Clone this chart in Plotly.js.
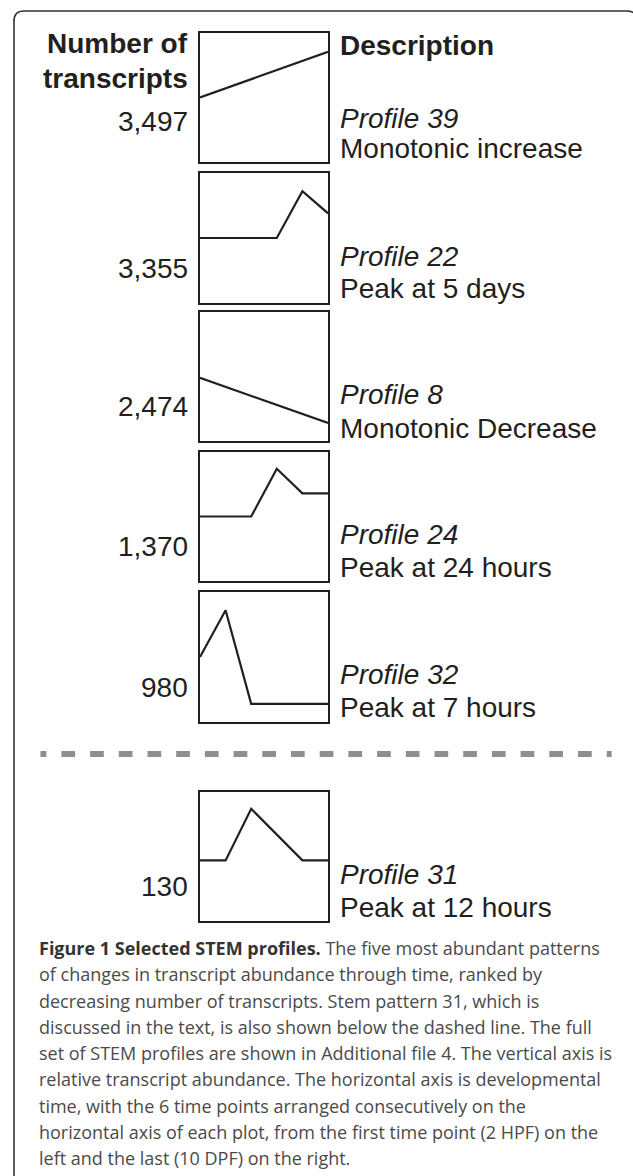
<!DOCTYPE html>
<html><head><meta charset="utf-8">
<script src="https://cdn.plot.ly/plotly-3.0.1.min.js"></script>
<style>html,body{margin:0;padding:0;background:#fff}#chart{width:633px;height:1176px}</style>
</head><body><div id="chart"></div>
<script>
// ---- data ----
const timePoints = [0, 1, 2, 3, 4, 5]; // 2 HPF ... 10 DPF
const profileIds = [39, 22, 8, 24, 32, 31];
const transcriptCounts = ["3,497", "3,355", "2,474", "1,370", "980", "130"];
const descriptions = ["Monotonic increase", "Peak at 5 days", "Monotonic Decrease",
                      "Peak at 24 hours", "Peak at 7 hours", "Peak at 12 hours"];
const profile39 = [0.50, 0.57, 0.64, 0.71, 0.78, 0.855];
const profile22 = [0.50, 0.50, 0.50, 0.50, 0.86, 0.69];
const profile8  = [0.49, 0.42, 0.35, 0.28, 0.21, 0.14];
const profile24 = [0.50, 0.50, 0.50, 0.87, 0.68, 0.68];
const profile32 = [0.50, 0.86, 0.14, 0.14, 0.14, 0.14];
const profile31 = [0.47, 0.47, 0.87, 0.67, 0.47, 0.47];
const profileValues = [profile39, profile22, profile8, profile24, profile32, profile31];
const captionBold = "Figure 1 Selected STEM profiles.";
const captionLines = [
  " The five most abundant patterns",
  "of changes in transcript abundance through time, ranked by",
  "decreasing number of transcripts. Stem pattern 31, which is",
  "discussed in the text, is also shown below the dashed line. The full",
  "set of STEM profiles are shown in Additional file 4. The vertical axis is",
  "relative transcript abundance. The horizontal axis is developmental",
  "time, with the 6 time points arranged consecutively on the",
  "horizontal axis of each plot, from the first time point (2 HPF) on the",
  "left and the last (10 DPF) on the right."
];

// ---- layout (pixels) ----
const W = 633, H = 1176;
const px = x => x / W, py = y => 1 - y / H;
const boxLeft = 200, boxRight = 328;
const boxTops = [33, 173, 312, 452, 592, 792];
const boxBottoms = [162, 303, 441, 581, 722, 921];
const countY = [121, 268, 406, 546, 687, 886];
const profY = [119, 256, 394, 534, 674, 874];
const descY = [148, 289, 428, 567, 707, 907];
const ink = '#231f20';
const sans = 'Liberation Sans, Arial, sans-serif';

const traces = [];
const layout = {
  width: W, height: H, margin: {l: 0, r: 0, t: 0, b: 0},
  paper_bgcolor: '#fff', plot_bgcolor: 'rgba(0,0,0,0)',
  showlegend: false, annotations: [], shapes: []
};

profileValues.forEach((vals, i) => {
  const k = i === 0 ? '' : String(i + 1);
  traces.push({
    x: timePoints, y: vals, type: 'scatter', mode: 'lines',
    xaxis: 'x' + k, yaxis: 'y' + k,
    line: {color: ink, width: 2.2}, hoverinfo: 'skip', cliponaxis: true
  });
  const ax = {showline: true, mirror: true, linewidth: 2.2, linecolor: ink,
              showgrid: false, zeroline: false, showticklabels: false, ticks: '', fixedrange: true};
  layout['xaxis' + k] = Object.assign({}, ax, {domain: [px(boxLeft), px(boxRight)], range: [0, 5], anchor: 'y' + k});
  layout['yaxis' + k] = Object.assign({}, ax, {domain: [py(boxBottoms[i]), py(boxTops[i])], range: [0, 1], anchor: 'x' + k});

  layout.annotations.push({
    xref: 'paper', yref: 'paper', x: px(190), y: py(countY[i]), xanchor: 'right', yanchor: 'middle',
    text: transcriptCounts[i], showarrow: false, font: {family: sans, size: 28, color: ink}
  });
  layout.annotations.push({
    xref: 'paper', yref: 'paper', x: px(338), y: py(profY[i]), xanchor: 'left', yanchor: 'middle',
    text: '<i>Profile ' + profileIds[i] + '</i>', showarrow: false, font: {family: sans, size: 28, color: ink}
  });
  layout.annotations.push({
    xref: 'paper', yref: 'paper', x: px(338), y: py(descY[i]), xanchor: 'left', yanchor: 'middle',
    text: descriptions[i], showarrow: false, font: {family: sans, size: 28, color: ink}
  });
});

// headers
layout.annotations.push({xref: 'paper', yref: 'paper', x: px(190), y: py(43), xanchor: 'right', yanchor: 'middle',
  text: '<b>Number of</b>', showarrow: false, font: {family: sans, size: 28, color: ink}});
layout.annotations.push({xref: 'paper', yref: 'paper', x: px(190), y: py(78), xanchor: 'right', yanchor: 'middle',
  text: '<b>transcripts</b>', showarrow: false, font: {family: sans, size: 28, color: ink}});
layout.annotations.push({xref: 'paper', yref: 'paper', x: px(338), y: py(46), xanchor: 'left', yanchor: 'middle',
  text: '<b>Description</b>', showarrow: false, font: {family: sans, size: 28, color: ink}});

// caption
const capFont = 'Open Sans, Noto Sans, sans-serif';
captionLines.forEach((line, j) => {
  const txt = j === 0 ? '<b><span style="color:#333">' + captionBold + '</span></b>' + line : line;
  layout.annotations.push({xref: 'paper', yref: 'paper', x: px(37), y: py(948 + 26.25 * j), xanchor: 'left', yanchor: 'middle',
    text: txt, showarrow: false, font: {family: capFont, size: 18, color: '#4a4a4a'}});
});

// outer rounded frame
const r = 10, fl = 14, ft = 11, fr = 637;
layout.shapes.push({
  type: 'path', xref: 'paper', yref: 'paper',
  path: `M ${px(fl)},${py(H + 10)} L ${px(fl)},${py(ft + r)} Q ${px(fl)},${py(ft)} ${px(fl + r)},${py(ft)} L ${px(fr - r)},${py(ft)} Q ${px(fr)},${py(ft)} ${px(fr)},${py(ft + r)} L ${px(fr)},${py(H + 10)}`,
  line: {color: '#333', width: 1.6}
});
// dashed separator
let dash = '6px,15px';
for (let d = 0; d < 22; d++) dash += ',13.7px,15px';
layout.shapes.push({
  type: 'line', xref: 'paper', yref: 'paper', x0: px(40.4), x1: px(611.6), y0: py(754), y1: py(754),
  line: {color: '#8f8f8f', width: 6, dash: dash}
});

Plotly.newPlot('chart', traces, layout, {displayModeBar: false, staticPlot: true});
</script>
</body></html>
